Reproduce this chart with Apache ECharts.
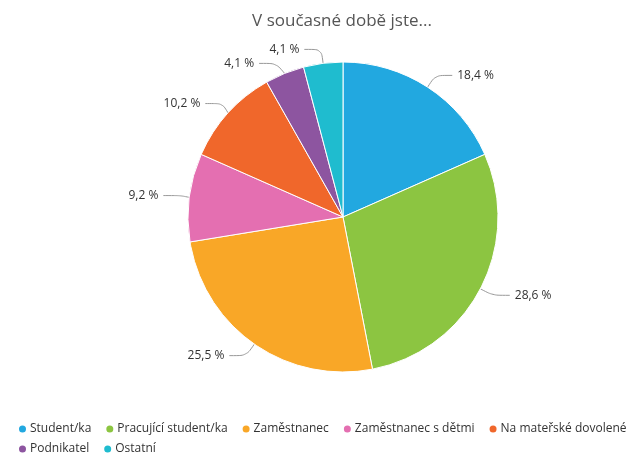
<!DOCTYPE html>
<html>
<head>
<meta charset="utf-8">
<script src="https://cdn.jsdelivr.net/npm/echarts@6/dist/echarts.min.js"></script>
<style>
  html, body { margin: 0; padding: 0; background: #fff; }
  #chart { width: 636px; height: 453px; }
</style>
</head>
<body>
<div id="chart"></div>
<script>
var categories = ['Student/ka', 'Pracující student/ka', 'Zaměstnanec', 'Zaměstnanec s dětmi', 'Na mateřské dovolené', 'Podnikatel', 'Ostatní'];
var values = [18.4, 28.6, 25.5, 9.2, 10.2, 4.1, 4.1];
var colors = ['#22a8e0', '#8cc541', '#f9a727', '#e46fb1', '#f0672b', '#8d55a0', '#1fbccf'];

var myChart = echarts.init(document.getElementById('chart'));

var pieData = [];
for (var i = 0; i < categories.length; i++) {
    pieData.push({ name: categories[i], value: values[i] });
}

// legenda ve dvou radcich
function makeLegend(names, top) {
    return {
        data: names,
        left: 12,
        top: top,
        width: 636,
        orient: 'horizontal',
        icon: 'circle',
        itemWidth: 9,
        itemHeight: 9,
        itemGap: 13,
        textStyle: {
            fontFamily: 'Open Sans',
            fontSize: 12,
            color: '#333',
            padding: [0, 0, 0, -2]
        }
    };
}

var option = {
    backgroundColor: '#fff',
    color: colors,
    title: {
        text: 'V současné době jste...',
        left: 337,
        textAlign: 'center',
        top: 8,
        textStyle: {
            fontFamily: 'Open Sans',
            fontSize: 17,
            fontWeight: 'normal',
            color: '#555'
        }
    },
    legend: [
        makeLegend(categories.slice(0, 5), 418),
        makeLegend(categories.slice(5), 438)
    ],
    series: [{
        type: 'pie',
        center: [343, 217],
        radius: 155,
        startAngle: 90,
        clockwise: true,
        data: pieData,
        itemStyle: {
            borderColor: '#fff',
            borderWidth: 1
        },
        label: {
            show: true,
            fontFamily: 'Open Sans',
            fontSize: 12,
            color: '#333',
            formatter: function (p) {
                return String(p.value).replace('.', ',') + ' %';
            }
        },
        labelLine: {
            show: true,
            length: 14,
            length2: 17,
            smooth: 0.3,
            lineStyle: { color: '#999', width: 1 }
        },
        emphasis: { scale: false }
    }]
};

myChart.setOption(option);
</script>
</body>
</html>
